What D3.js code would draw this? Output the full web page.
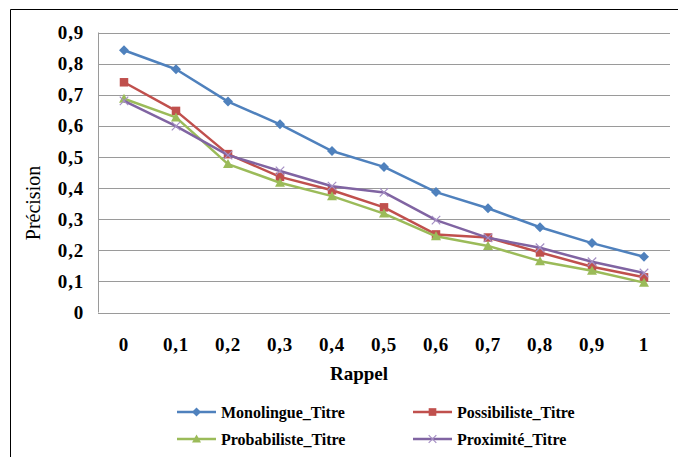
<!DOCTYPE html>
<html><head><meta charset="utf-8">
<script src="https://cdn.jsdelivr.net/npm/d3@7"></script>
<style>body{margin:0;background:#fff}svg{display:block}text{font-family:"Liberation Serif","Times New Roman",serif;fill:#000}</style>
</head><body>
<svg id="c" width="678" height="457"></svg>
<script>
const categories = ["0","0,1","0,2","0,3","0,4","0,5","0,6","0,7","0,8","0,9","1"];
const yTicks = [0,0.1,0.2,0.3,0.4,0.5,0.6,0.7,0.8,0.9];
const yTickLabels = ["0","0,1","0,2","0,3","0,4","0,5","0,6","0,7","0,8","0,9"];
const monolingue = [0.843,0.782,0.678,0.605,0.519,0.468,0.387,0.335,0.274,0.223,0.179];
const possibiliste = [0.740,0.648,0.509,0.436,0.393,0.338,0.251,0.241,0.193,0.147,0.113];
const probabiliste = [0.687,0.627,0.477,0.417,0.374,0.318,0.245,0.214,0.165,0.134,0.096];
const proximite = [0.680,0.599,0.506,0.455,0.406,0.386,0.297,0.240,0.208,0.163,0.127];
const seriesNames = ["Monolingue_Titre","Possibiliste_Titre","Probabiliste_Titre","Proximité_Titre"];

const series = [
  {name: seriesNames[0], values: monolingue, color: "#4F81BD", marker: "diamond"},
  {name: seriesNames[1], values: possibiliste, color: "#C0504D", marker: "square"},
  {name: seriesNames[2], values: probabiliste, color: "#9BBB59", marker: "triangle"},
  {name: seriesNames[3], values: proximite, color: "#8064A2", marker: "x"}
];
const FONT = "Liberation Serif";

const svg = d3.select("#c");
svg.append("line").attr("x1",10.5).attr("x2",10.5).attr("y1",9.5).attr("y2",457).attr("stroke","#000");
svg.append("line").attr("x1",10.5).attr("x2",678).attr("y1",9.5).attr("y2",9.5).attr("stroke","#000");

const x = d3.scaleBand().domain(categories).range([98,670]).padding(0);
const y = d3.scaleLinear().domain([0,0.9]).range([312.5,32.5]);

svg.append("g").selectAll("line").data(yTicks).join("line")
  .attr("x1",98).attr("x2",670).attr("y1",d=>Math.round(y(d))+0.5).attr("y2",d=>Math.round(y(d))+0.5)
  .attr("stroke","#9a9a9a").attr("stroke-width",1);
svg.append("line").attr("x1",98.5).attr("x2",98.5).attr("y1",y(0.9)).attr("y2",y(0)).attr("stroke","#9a9a9a");

const yAxis = d3.axisLeft(y).tickValues(yTicks).tickFormat((d,i)=>yTickLabels[i]).tickSize(0).tickPadding(14);
const gy = svg.append("g").attr("transform","translate(98,0)").call(yAxis);
gy.select(".domain").remove();
gy.selectAll("text").attr("font-size",19).attr("font-weight","bold").attr("font-family",FONT).attr("letter-spacing","0.8px");

const xAxis = d3.axisBottom(x).tickSize(0).tickPadding(26);
const gx = svg.append("g").attr("transform","translate(0,312)").call(xAxis);
gx.select(".domain").remove();
gx.selectAll("text").attr("font-size",19).attr("font-weight","bold").attr("font-family",FONT).attr("letter-spacing","0.8px");

svg.append("text").attr("x",359).attr("y",380).attr("text-anchor","middle").attr("font-family",FONT).attr("font-size",19).attr("font-weight","bold").text("Rappel");
svg.append("text").attr("transform","translate(40,203) rotate(-90)").attr("text-anchor","middle").attr("font-family",FONT).attr("font-size",20).text("Précision");

function drawMarker(g, type, cx, cy, color, s) {
  if (type === "diamond") {
    g.append("path").attr("d",`M${cx},${cy-s}L${cx+s},${cy}L${cx},${cy+s}L${cx-s},${cy}Z`).attr("fill",color);
  } else if (type === "square") {
    g.append("rect").attr("x",cx-s*0.85).attr("y",cy-s*0.85).attr("width",s*1.7).attr("height",s*1.7).attr("fill",color);
  } else if (type === "triangle") {
    g.append("path").attr("d",`M${cx},${cy-s}L${cx+s},${cy+s*0.8}L${cx-s},${cy+s*0.8}Z`).attr("fill",color);
  } else {
    const k = s*0.85;
    g.append("path").attr("d",`M${cx-k},${cy-k}L${cx+k},${cy+k}M${cx-k},${cy+k}L${cx+k},${cy-k}`).attr("stroke","#a58fc4").attr("stroke-width",1.2).attr("fill","none");
  }
}

const line = d3.line().x((d,i)=>x(categories[i])+x.bandwidth()/2).y(d=>y(d));
series.forEach(s=>{
  const g = svg.append("g");
  g.append("path").attr("d",line(s.values)).attr("fill","none").attr("stroke",s.color).attr("stroke-width",2.5).attr("stroke-linejoin","round");
  s.values.forEach((v,i)=>drawMarker(g,s.marker,x(categories[i])+x.bandwidth()/2,y(v),s.color,5));
});

const legPos = [[177,412],[413,412],[177,439],[413,439]];
series.forEach((s,i)=>{
  const [lx,ly] = legPos[i];
  const g = svg.append("g");
  g.append("line").attr("x1",lx).attr("x2",lx+39).attr("y1",ly).attr("y2",ly).attr("stroke",s.color).attr("stroke-width",2.5);
  drawMarker(g,s.marker,lx+19.5,ly,s.color,4.5);
  g.append("text").attr("x",lx+44).attr("y",ly).attr("dy","0.35em").attr("font-family",FONT).attr("font-size",16).attr("font-weight","bold").text(s.name);
});
</script>
</body></html>
